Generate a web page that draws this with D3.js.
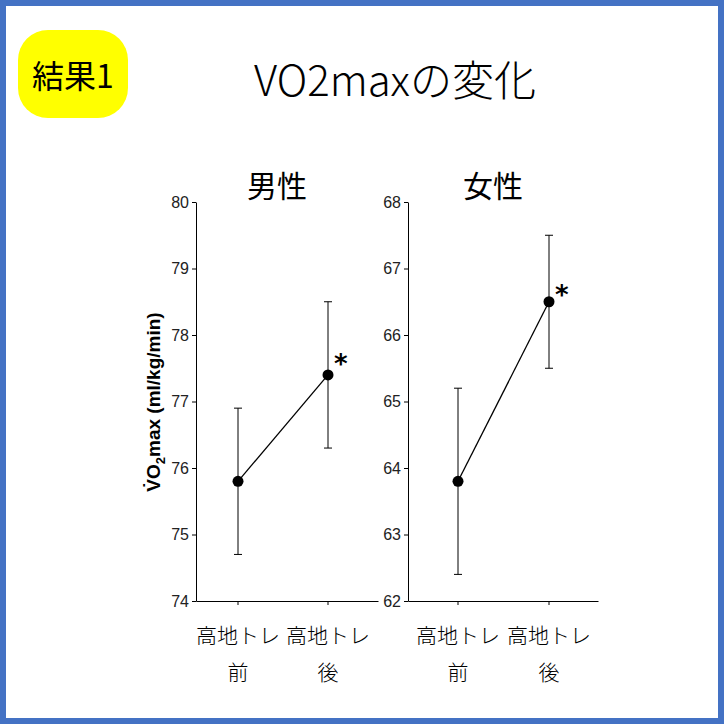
<!DOCTYPE html>
<html><head><meta charset="utf-8">
<script src="https://cdn.jsdelivr.net/npm/d3@7"></script>
<style>body{margin:0;background:#fff}svg{display:block}</style>
</head><body>
<script>
var groups = ["高地トレ前", "高地トレ後"];
var maleMeans = [75.8, 77.4];
var maleErr = [1.1, 1.1];
var femaleMeans = [63.8, 66.5];
var femaleErr = [1.4, 1.0];
var maleTicks = [74, 75, 76, 77, 78, 79, 80];
var femaleTicks = [62, 63, 64, 65, 66, 67, 68];

var svg = d3.select("body").append("svg").attr("width", 724).attr("height", 724);
svg.append("rect").attr("x", 3).attr("y", 3).attr("width", 718).attr("height", 718)
    .attr("fill", "#fff").attr("stroke", "#4472c4").attr("stroke-width", 6);
svg.append("rect").attr("x", 18).attr("y", 30).attr("width", 110).attr("height", 88)
    .attr("rx", 30).attr("fill", "#ffff00");
svg.append("text").attr("x", 73).attr("y", 88).attr("text-anchor", "middle")
    .attr("font-family", "Noto Sans CJK JP").attr("font-size", 32).text("結果1");
svg.append("text").attr("x", 395).attr("y", 96).attr("text-anchor", "middle")
    .attr("font-family", "Noto Sans CJK JP").attr("font-weight", 300).attr("font-size", 42).text("VO2maxの変化");

function panel(x0, x1, title, means, errs, ticks, starOff, px) {
    var y = d3.scaleLinear().domain([ticks[0], ticks[ticks.length - 1]]).range([601, 202]);
    var x = d3.scalePoint().domain(groups).range(px);
    var g = svg.append("g");
    g.append("g").attr("transform", "translate(" + x0 + ",0)")
        .call(d3.axisLeft(y).tickValues(ticks).tickFormat(d3.format("d")).tickSize(4).tickSizeOuter(0))
        .call(function(a) {
            a.selectAll("text").attr("font-family", "Liberation Sans Narrow, Liberation Sans")
                .attr("font-size", 16).attr("fill", "#222");
        });
    g.append("g").attr("transform", "translate(0,601)")
        .call(d3.axisBottom(d3.scaleLinear().range([x0, x1])).tickValues([]).tickSizeOuter(0));
    groups.forEach(function(d) {
        g.append("line").attr("x1", x(d)).attr("x2", x(d)).attr("y1", 601).attr("y2", 605).attr("stroke", "#000");
    });
    g.selectAll("path.domain").attr("stroke", "#000");
    g.append("path").attr("fill", "none").attr("stroke", "#000").attr("stroke-width", 1.3)
        .attr("d", d3.line().x(function(d, i) { return x(groups[i]); }).y(function(d) { return y(d); })(means));
    means.forEach(function(m, i) {
        var cx = x(groups[i]);
        g.append("line").attr("x1", cx).attr("x2", cx).attr("y1", y(m - errs[i])).attr("y2", y(m + errs[i])).attr("stroke", "#000");
        [m - errs[i], m + errs[i]].forEach(function(v) {
            g.append("line").attr("x1", cx - 4).attr("x2", cx + 4).attr("y1", y(v)).attr("y2", y(v)).attr("stroke", "#000");
        });
        g.append("circle").attr("cx", cx).attr("cy", y(m)).attr("r", 5.5).attr("fill", "#000");
    });
    g.append("text").attr("x", x(groups[1]) + 6).attr("y", y(means[1]) + starOff)
        .attr("font-family", "DejaVu Sans").attr("font-weight", "bold").attr("font-size", 26).text("*");
    g.append("text").attr("x", (x0 + x1) / 2 - 10).attr("y", 197).attr("text-anchor", "middle")
        .attr("font-family", "Noto Sans CJK JP").attr("font-size", 30).text(title);
    groups.forEach(function(d) {
        var t = g.append("text").attr("text-anchor", "middle").attr("font-family", "Noto Sans CJK JP")
            .attr("font-size", 21).attr("font-weight", 300);
        t.append("tspan").attr("x", x(d)).attr("y", 643).text(d.slice(0, 4));
        t.append("tspan").attr("x", x(d)).attr("y", 680).text(d.slice(4));
    });
}
panel(196, 378, "男性", maleMeans, maleErr, maleTicks, -2, [238, 328]);
panel(408, 598, "女性", femaleMeans, femaleErr, femaleTicks, 2, [458, 549]);

var yl = svg.append("text").attr("transform", "translate(160,402) rotate(-90)").attr("text-anchor", "middle")
    .attr("font-family", "Liberation Sans").attr("font-weight", "bold").attr("font-size", 19);
yl.append("tspan").text("V̇O");
yl.append("tspan").attr("font-size", 13).attr("dy", 5).text("2");
yl.append("tspan").attr("dy", -5).text("max (ml/kg/min)");
</script>
</body></html>
